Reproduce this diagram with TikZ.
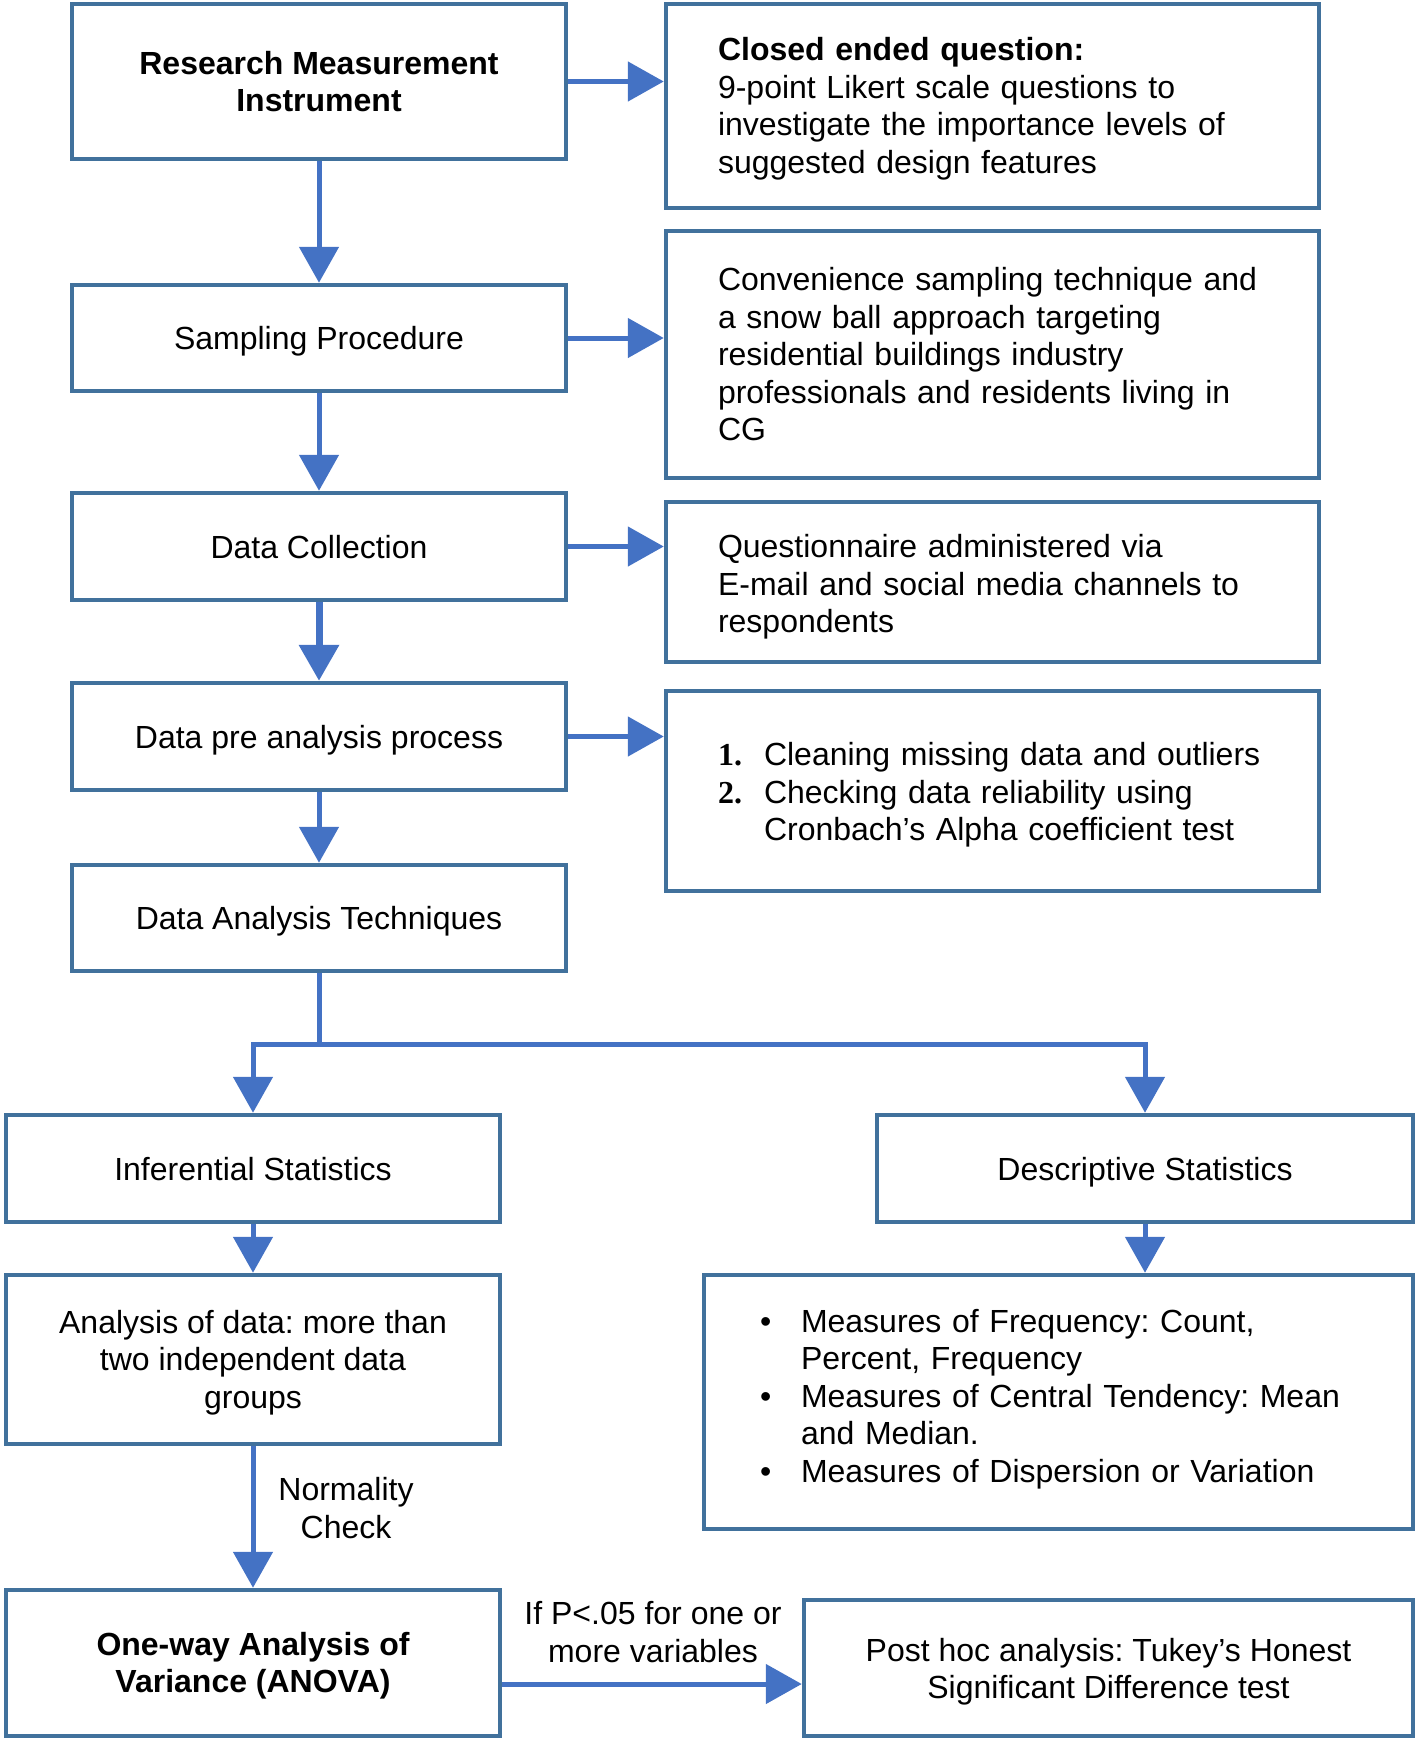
\documentclass[tikz,border=0pt]{standalone}
\usepackage{fontspec}
\setmainfont{Liberation Sans}
\newfontfamily\numfont{Liberation Serif}
\usetikzlibrary{arrows.meta, positioning, calc}
\definecolor{boxline}{HTML}{41719C}
\definecolor{arrowblue}{HTML}{4472C4}
\frenchspacing
\tikzset{
    stagebox/.style={rectangle, draw=boxline, line width=4.5pt, fill=white,
        minimum width=494pt, minimum height=107pt, align=center, inner sep=6pt,
        font=\fontsize{32}{37.5}\selectfont},
    oneline/.style={text height=23pt, text depth=0pt},
    notebox/.style={stagebox, text width=549pt, inner xsep=52pt, align=left},
    flowarrow/.style={-{Triangle[length=36pt, width=39pt]}, line width=5pt, arrowblue},
    flowline/.style={line width=5pt, arrowblue},
    edgelabel/.style={font=\fontsize{32}{37.5}\selectfont, align=center},
}

\begin{document}
\begin{tikzpicture}[x=1pt, y=-1pt]
    \useasboundingbox (0,0) rectangle (1416,1742);

    % left column
    \node[stagebox, minimum height=155pt, font=\fontsize{32}{37.5}\selectfont\bfseries] (instr) at (319,81.5) {Research Measurement\\Instrument};
    \node[stagebox, oneline, minimum height=106pt] (sampling) at (319,338) {Sampling Procedure};
    \node[stagebox, oneline] (collect) at (319,546.5) {Data Collection};
    \node[stagebox, oneline] (preproc) at (319,736.5) {Data pre analysis process};
    \node[stagebox, oneline, minimum height=106pt] (techn) at (319,918) {Data Analysis Techniques};

    % right column notes
    \node[notebox, minimum height=204pt] (closed) at (992.5,106) {\rule{0pt}{29pt}\textbf{Closed ended question:}\\9-point Likert scale questions to\\investigate the importance levels of\\suggested design features};
    \node[notebox, minimum height=247pt] (conv) at (992.5,354.5) {Convenience sampling technique and\\a snow ball approach targeting\\residential buildings industry\\professionals and residents living in\\CG};
    \node[notebox, minimum height=160pt] (quest) at (992.5,582) {\rule{0pt}{33pt}Questionnaire administered via\\E-mail and social media channels to\\respondents};
    \node[notebox, minimum height=200pt] (clean) at (992.5,791) {\rule{0pt}{31pt}\makebox[46pt][l]{\numfont\bfseries 1.}Cleaning missing data and outliers\\\makebox[46pt][l]{\numfont\bfseries 2.}Checking data reliability using\\\hspace*{46pt}Cronbach’s Alpha coefficient test};

    % statistics
    \node[stagebox, oneline] (infer) at (253,1168.5) {Inferential Statistics};
    \node[stagebox, oneline, minimum width=536pt] (descr) at (1145,1168.5) {Descriptive Statistics};
    \node[stagebox, minimum height=169pt] (anadata) at (253,1359.5) {\rule{0pt}{29pt}Analysis of data: more than\\two independent data\\groups};
    \node[stagebox, minimum height=254pt, text width=597pt, inner xsep=56pt, align=left] (measures) at (1058.5,1402) {\makebox[41pt][l]{\textbullet}Measures of Frequency: Count,\\\hspace*{41pt}Percent, Frequency\\\makebox[41pt][l]{\textbullet}Measures of Central Tendency: Mean\\\hspace*{41pt}and Median.\\\makebox[41pt][l]{\textbullet}Measures of Dispersion or Variation\rule[-13pt]{0pt}{0pt}};
    \node[stagebox, minimum height=146pt, font=\fontsize{32}{37.5}\selectfont\bfseries] (anova) at (253,1663) {\rule{0pt}{29pt}One-way Analysis of\\Variance (ANOVA)};
    \node[stagebox, minimum width=609pt, minimum height=136pt] (posthoc) at (1108.5,1668) {\rule{0pt}{31pt}Post hoc analysis: Tukey’s Honest\\Significant Difference test};

    % connectors
    \draw[flowarrow] (instr) -- (sampling);
    \draw[flowarrow] (sampling) -- (collect);
    \draw[flowarrow, line width=7pt] (collect) -- (preproc);
    \draw[flowarrow] (preproc) -- (techn);
    \draw[flowarrow] (instr.east) -- (instr.east -| closed.west);
    \draw[flowarrow] (sampling.east) -- (sampling.east -| conv.west);
    \draw[flowarrow] (collect.east) -- (collect.east -| quest.west);
    \draw[flowarrow] (preproc.east) -- (preproc.east -| clean.west);

    \draw[flowline] (techn.south) -- ++(0,71) coordinate (split);
    \draw[flowarrow] (split) -| (infer.north);
    \draw[flowarrow] (split) -| (descr.north);

    \draw[flowarrow] (infer) -- (anadata);
    \draw[flowarrow] (descr.south) -- (descr.south |- measures.north);
    \draw[flowarrow] (anadata) -- (anova);
    \draw[flowarrow] ([yshift=-21pt]anova.east) -- ([yshift=-21pt]anova.east -| posthoc.west);

    \node[edgelabel] (normlabel) at (346,1508) {Normality\\Check};
    \node[edgelabel] (plabel) at (653,1632) {If P<.05 for one or\\more variables};
\end{tikzpicture}
\end{document}
